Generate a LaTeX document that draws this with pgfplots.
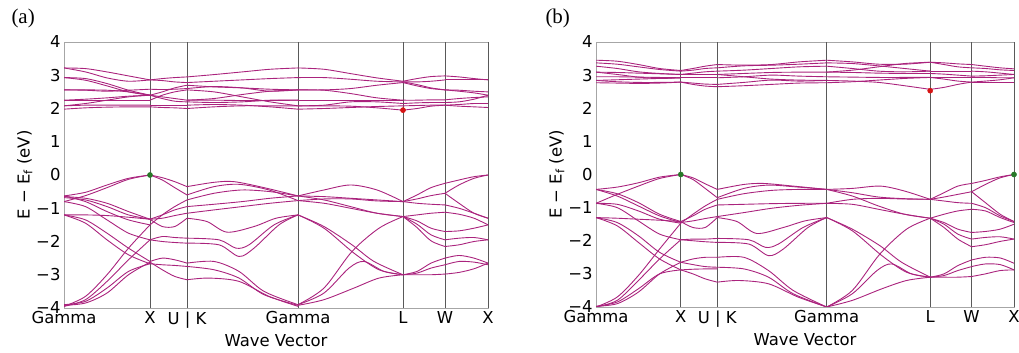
\documentclass[border=0pt]{standalone}
\usepackage{pgfplots}
\pgfplotsset{compat=1.18}
\usepackage{fontspec}
\setmainfont{DejaVu Sans}
\newfontfamily\serifff{Liberation Serif}
\definecolor{bandc}{RGB}{170,35,125}
\definecolor{gdot}{RGB}{40,120,40}
\definecolor{rdot}{RGB}{215,20,20}
\pgfplotsset{
  bandax/.style={
    scale only axis, xmin=0, xmax=4.24, ymin=-4, ymax=4,
    ytick={-4,-3,-2,-1,0,1,2,3,4},
    yticklabels={−4,−3,−2,−1,0,1,2,3,4},
    xtick={0,0.86,1.23,2.34,3.39,3.81,4.24},
    xticklabels={Gamma,X,U | K,Gamma,L,W,X},
    extra x ticks={0.86,1.23,2.34,3.39,3.81,4.24},
    extra x tick labels={},
    extra x tick style={grid=major, major grid style={black!65, line width=0.8pt}},
    major tick length=0pt,
    tick label style={font=\fontsize{16.5}{19}\selectfont},
    label style={font=\fontsize{16.5}{19}\selectfont},
    xlabel={Wave Vector},
    ylabel={E − E\textsubscript{f} (eV)},
    ylabel style={yshift=-3bp},
    axis line style={black!35, line width=0.8pt},
  },
  b/.style={smooth, line width=0.9pt, bandc},
}
\begin{document}
\begin{tikzpicture}
\path[use as bounding box] (0,0) rectangle (1019bp,353bp);
\node[anchor=base west, font=\serifff\fontsize{21}{24}\selectfont] at (8bp,329bp) {(a)};
\node[anchor=base west, font=\serifff\fontsize{21}{24}\selectfont] at (542bp,329bp) {(b)};
% ================= panel (a)
\begin{axis}[bandax, at={(64bp,45bp)}, anchor=south west, width=424bp, height=266bp]
% valence G-X
\addplot[b] coordinates {(0,-0.63)(0.215,-0.52)(0.43,-0.3)(0.645,-0.1)(0.86,0)};
\addplot[b] coordinates {(0,-0.80)(0.215,-0.62)(0.43,-0.38)(0.645,-0.13)(0.86,0)};
\addplot[b] coordinates {(0,-0.65)(0.215,-0.70)(0.43,-0.85)(0.645,-1.1)(0.86,-1.33)};
\addplot[b] coordinates {(0,-0.68)(0.215,-0.75)(0.43,-0.95)(0.645,-1.2)(0.86,-1.33)};
\addplot[b] coordinates {(0,-0.63)(0.215,-0.80)(0.43,-1.1)(0.645,-1.35)(0.86,-1.5)};
\addplot[b] coordinates {(0,-1.2)(0.215,-1.2)(0.43,-1.22)(0.645,-1.27)(0.86,-1.33)};
\addplot[b] coordinates {(0,-0.80)(0.215,-0.95)(0.43,-1.35)(0.645,-1.75)(0.86,-1.95)};
\addplot[b] coordinates {(0,-1.2)(0.215,-1.35)(0.43,-1.75)(0.645,-2.2)(0.86,-2.6)};
\addplot[b] coordinates {(0,-1.2)(0.215,-1.45)(0.43,-1.95)(0.645,-2.4)(0.86,-2.67)};
\addplot[b] coordinates {(0,-3.95)(0.215,-3.75)(0.43,-3.2)(0.645,-2.55)(0.86,-1.95)};
\addplot[b] coordinates {(0,-3.95)(0.215,-3.65)(0.43,-3.0)(0.645,-2.2)(0.86,-1.5)};
\addplot[b] coordinates {(0,-3.90)(0.215,-3.8)(0.43,-3.4)(0.645,-2.9)(0.86,-2.67)};
\addplot[b] coordinates {(0,-3.92)(0.215,-3.85)(0.43,-3.55)(0.645,-3.0)(0.86,-2.62)};
% X-UK
\addplot[b] coordinates {(0.86,0)(0.983,-0.08)(1.107,-0.2)(1.23,-0.35)};
\addplot[b] coordinates {(0.86,0)(0.983,-0.15)(1.107,-0.38)(1.23,-0.6)};
\addplot[b] coordinates {(0.86,-1.33)(0.983,-1.2)(1.107,-1.05)(1.23,-0.95)};
\addplot[b] coordinates {(0.86,-1.33)(0.983,-1.3)(1.107,-1.22)(1.23,-1.15)};
\addplot[b] coordinates {(0.86,-1.5)(0.983,-1.2)(1.107,-0.95)(1.23,-0.75)};
\addplot[b] coordinates {(0.86,-1.33)(0.983,-1.55)(1.107,-1.55)(1.23,-1.3)};
\addplot[b] coordinates {(0.86,-1.95)(0.983,-1.85)(1.107,-1.88)(1.23,-1.9)};
\addplot[b] coordinates {(0.86,-1.95)(0.983,-2.0)(1.107,-2.03)(1.23,-2.05)};
\addplot[b] coordinates {(0.86,-2.6)(0.983,-2.5)(1.107,-2.55)(1.23,-2.65)};
\addplot[b] coordinates {(0.86,-2.67)(0.983,-2.7)(1.107,-2.72)(1.23,-2.75)};
\addplot[b] coordinates {(0.86,-2.62)(0.983,-2.85)(1.107,-3.05)(1.23,-3.15)};
% UK-G
\addplot[b] coordinates {(1.23,-0.35)(1.5,-0.22)(1.7,-0.2)(2.0,-0.38)(2.34,-0.63)};
\addplot[b] coordinates {(1.23,-0.6)(1.5,-0.35)(1.75,-0.28)(2.05,-0.45)(2.34,-0.77)};
\addplot[b] coordinates {(1.23,-0.75)(1.5,-0.55)(1.78,-0.45)(2.06,-0.5)(2.34,-0.63)};
\addplot[b] coordinates {(1.23,-0.95)(1.5,-0.88)(1.78,-0.8)(2.06,-0.7)(2.34,-0.63)};
\addplot[b] coordinates {(1.23,-1.15)(1.5,-1.05)(1.78,-0.95)(2.06,-0.85)(2.34,-0.77)};
\addplot[b] coordinates {(1.23,-1.3)(1.43,-1.4)(1.63,-1.72)(1.9,-1.55)(2.12,-1.3)(2.34,-1.2)};
\addplot[b] coordinates {(1.23,-1.9)(1.55,-1.95)(1.72,-2.2)(1.85,-2.1)(2.1,-1.5)(2.34,-1.2)};
\addplot[b] coordinates {(1.23,-2.05)(1.55,-2.1)(1.75,-2.45)(1.9,-2.2)(2.15,-1.5)(2.34,-1.2)};
\addplot[b] coordinates {(1.23,-2.65)(1.5,-2.6)(1.75,-2.9)(2.0,-3.5)(2.34,-3.9)};
\addplot[b] coordinates {(1.23,-2.75)(1.5,-2.85)(1.75,-3.1)(2.0,-3.6)(2.34,-3.92)};
\addplot[b] coordinates {(1.23,-3.15)(1.45,-3.1)(1.75,-3.2)(2.05,-3.65)(2.34,-3.95)};
% G-L
\addplot[b] coordinates {(2.34,-0.63)(2.6,-0.45)(2.865,-0.3)(3.13,-0.45)(3.39,-0.8)};
\addplot[b] coordinates {(2.34,-0.63)(2.6,-0.65)(2.865,-0.7)(3.13,-0.75)(3.39,-0.8)};
\addplot[b] coordinates {(2.34,-0.77)(2.6,-0.72)(2.865,-0.72)(3.13,-0.78)(3.39,-0.8)};
\addplot[b] coordinates {(2.34,-0.63)(2.6,-0.75)(2.865,-0.95)(3.13,-1.15)(3.39,-1.25)};
\addplot[b] coordinates {(2.34,-0.77)(2.6,-0.85)(2.865,-1.0)(3.13,-1.15)(3.39,-1.25)};
\addplot[b] coordinates {(2.34,-1.2)(2.6,-1.6)(2.9,-2.35)(3.15,-2.85)(3.39,-3.0)};
\addplot[b] coordinates {(2.34,-1.2)(2.6,-1.55)(2.88,-2.1)(3.1,-2.6)(3.39,-3.0)};
\addplot[b] coordinates {(2.34,-3.9)(2.6,-3.4)(2.88,-2.3)(3.15,-1.6)(3.39,-1.25)};
\addplot[b] coordinates {(2.34,-3.9)(2.6,-3.55)(2.85,-2.8)(3.0,-2.6)(3.2,-2.9)(3.39,-3.0)};
\addplot[b] coordinates {(2.34,-3.92)(2.6,-3.75)(2.9,-3.4)(3.15,-3.1)(3.39,-3.0)};
% L-W
\addplot[b] coordinates {(3.39,-0.8)(3.53,-0.6)(3.67,-0.38)(3.81,-0.25)};
\addplot[b] coordinates {(3.39,-0.8)(3.53,-0.72)(3.67,-0.62)(3.81,-0.55)};
\addplot[b] coordinates {(3.39,-0.8)(3.53,-0.85)(3.67,-0.88)(3.81,-0.9)};
\addplot[b] coordinates {(3.39,-1.25)(3.53,-1.2)(3.67,-1.15)(3.81,-1.12)};
\addplot[b] coordinates {(3.39,-1.25)(3.53,-1.38)(3.67,-1.6)(3.81,-1.7)};
\addplot[b] coordinates {(3.39,-1.25)(3.53,-1.48)(3.67,-1.8)(3.81,-1.95)};
\addplot[b] coordinates {(3.39,-1.25)(3.53,-1.58)(3.67,-1.98)(3.81,-2.15)};
\addplot[b] coordinates {(3.39,-3.0)(3.53,-2.9)(3.67,-2.65)(3.81,-2.5)};
\addplot[b] coordinates {(3.39,-3.0)(3.53,-2.95)(3.67,-2.8)(3.81,-2.7)};
\addplot[b] coordinates {(3.39,-3.0)(3.53,-3.0)(3.67,-3.0)(3.81,-2.98)};
% W-X
\addplot[b] coordinates {(3.81,-0.25)(3.95,-0.15)(4.1,-0.05)(4.24,0)};
\addplot[b] coordinates {(3.81,-0.55)(3.95,-0.3)(4.1,-0.1)(4.24,0)};
\addplot[b] coordinates {(3.81,-0.55)(3.95,-0.85)(4.1,-1.15)(4.24,-1.3)};
\addplot[b] coordinates {(3.81,-0.9)(3.95,-1.0)(4.1,-1.15)(4.24,-1.3)};
\addplot[b] coordinates {(3.81,-1.12)(3.95,-1.18)(4.1,-1.3)(4.24,-1.5)};
\addplot[b] coordinates {(3.81,-1.7)(3.95,-1.68)(4.1,-1.6)(4.24,-1.5)};
\addplot[b] coordinates {(3.81,-1.95)(3.95,-1.9)(4.1,-1.88)(4.24,-1.95)};
\addplot[b] coordinates {(3.81,-2.15)(3.95,-2.1)(4.1,-2.0)(4.24,-1.95)};
\addplot[b] coordinates {(3.81,-2.5)(3.95,-2.42)(4.1,-2.5)(4.24,-2.65)};
\addplot[b] coordinates {(3.81,-2.7)(3.95,-2.6)(4.1,-2.62)(4.24,-2.7)};
\addplot[b] coordinates {(3.81,-2.98)(3.95,-2.93)(4.1,-2.82)(4.24,-2.65)};
% conduction G-X
\addplot[b] coordinates {(0,3.22)(0.215,3.2)(0.43,3.1)(0.645,2.98)(0.86,2.86)};
\addplot[b] coordinates {(0,3.22)(0.215,3.1)(0.43,2.92)(0.645,2.82)(0.86,2.86)};
\addplot[b] coordinates {(0,2.93)(0.215,2.9)(0.43,2.75)(0.645,2.55)(0.86,2.4)};
\addplot[b] coordinates {(0,2.93)(0.215,2.85)(0.43,2.68)(0.645,2.5)(0.86,2.4)};
\addplot[b] coordinates {(0,2.56)(0.215,2.56)(0.43,2.55)(0.645,2.5)(0.86,2.4)};
\addplot[b] coordinates {(0,2.56)(0.215,2.55)(0.43,2.52)(0.645,2.55)(0.86,2.58)};
\addplot[b] coordinates {(0,2.25)(0.215,2.28)(0.43,2.32)(0.645,2.37)(0.86,2.4)};
\addplot[b] coordinates {(0,2.08)(0.215,2.15)(0.43,2.25)(0.645,2.35)(0.86,2.4)};
\addplot[b] coordinates {(0,2.25)(0.215,2.25)(0.43,2.25)(0.645,2.25)(0.86,2.25)};
\addplot[b] coordinates {(0,2.08)(0.215,2.1)(0.43,2.1)(0.645,2.1)(0.86,2.1)};
\addplot[b] coordinates {(0,1.98)(0.215,2.02)(0.43,2.04)(0.645,2.05)(0.86,2.05)};
% X-UK
\addplot[b] coordinates {(0.86,2.86)(0.983,2.9)(1.107,2.93)(1.23,2.95)};
\addplot[b] coordinates {(0.86,2.86)(0.983,2.84)(1.107,2.8)(1.23,2.78)};
\addplot[b] coordinates {(0.86,2.4)(0.983,2.5)(1.107,2.62)(1.23,2.7)};
\addplot[b] coordinates {(0.86,2.58)(0.983,2.57)(1.107,2.58)(1.23,2.6)};
\addplot[b] coordinates {(0.86,2.4)(0.983,2.35)(1.107,2.3)(1.23,2.25)};
\addplot[b] coordinates {(0.86,2.4)(0.983,2.3)(1.107,2.22)(1.23,2.2)};
\addplot[b] coordinates {(0.86,2.25)(0.983,2.4)(1.107,2.5)(1.23,2.56)};
\addplot[b] coordinates {(0.86,2.1)(0.983,2.1)(1.107,2.1)(1.23,2.1)};
\addplot[b] coordinates {(0.86,2.05)(0.983,2.03)(1.107,2.02)(1.23,2.0)};
% UK-G
\addplot[b] coordinates {(1.23,2.95)(1.5,3.02)(1.78,3.1)(2.06,3.18)(2.34,3.22)};
\addplot[b] coordinates {(1.23,2.78)(1.5,2.82)(1.78,2.86)(2.06,2.9)(2.34,2.93)};
\addplot[b] coordinates {(1.23,2.7)(1.5,2.65)(1.78,2.62)(2.06,2.58)(2.34,2.56)};
\addplot[b] coordinates {(1.23,2.6)(1.5,2.66)(1.78,2.62)(2.06,2.52)(2.34,2.56)};
\addplot[b] coordinates {(1.23,2.56)(1.5,2.5)(1.78,2.35)(2.06,2.2)(2.34,2.08)};
\addplot[b] coordinates {(1.23,2.25)(1.5,2.3)(1.78,2.42)(2.06,2.52)(2.34,2.56)};
\addplot[b] coordinates {(1.23,2.2)(1.5,2.18)(1.78,2.2)(2.06,2.25)(2.34,2.25)};
\addplot[b] coordinates {(1.23,2.1)(1.5,2.12)(1.78,2.1)(2.06,2.05)(2.34,1.98)};
\addplot[b] coordinates {(1.23,2.0)(1.5,2.05)(1.78,2.08)(2.06,2.08)(2.34,2.08)};
\addplot[b] coordinates {(1.23,2.25)(1.5,2.25)(1.78,2.24)(2.06,2.24)(2.34,2.25)};
% G-L
\addplot[b] coordinates {(2.34,3.22)(2.6,3.18)(2.865,3.05)(3.13,2.92)(3.39,2.82)};
\addplot[b] coordinates {(2.34,2.93)(2.6,2.93)(2.865,2.88)(3.13,2.82)(3.39,2.8)};
\addplot[b] coordinates {(2.34,2.56)(2.6,2.56)(2.865,2.6)(3.13,2.7)(3.39,2.78)};
\addplot[b] coordinates {(2.34,2.56)(2.6,2.55)(2.865,2.45)(3.13,2.32)(3.39,2.25)};
\addplot[b] coordinates {(2.34,2.25)(2.6,2.25)(2.865,2.25)(3.13,2.25)(3.39,2.25)};
\addplot[b] coordinates {(2.34,2.08)(2.6,2.1)(2.865,2.2)(3.13,2.2)(3.39,2.15)};
\addplot[b] coordinates {(2.34,2.08)(2.6,2.08)(2.865,2.07)(3.13,2.02)(3.39,1.95)};
\addplot[b] coordinates {(2.34,1.98)(2.6,2.0)(2.865,2.03)(3.13,2.06)(3.39,2.08)};
% L-W
\addplot[b] coordinates {(3.39,2.82)(3.53,2.9)(3.67,2.96)(3.81,2.98)};
\addplot[b] coordinates {(3.39,2.8)(3.53,2.8)(3.67,2.82)(3.81,2.86)};
\addplot[b] coordinates {(3.39,2.78)(3.53,2.68)(3.67,2.6)(3.81,2.56)};
\addplot[b] coordinates {(3.39,2.8)(3.53,2.72)(3.67,2.62)(3.81,2.56)};
\addplot[b] coordinates {(3.39,2.25)(3.53,2.25)(3.67,2.26)(3.81,2.26)};
\addplot[b] coordinates {(3.39,2.15)(3.53,2.17)(3.67,2.18)(3.81,2.18)};
\addplot[b] coordinates {(3.39,1.95)(3.53,2.0)(3.67,2.07)(3.81,2.1)};
\addplot[b] coordinates {(3.39,2.08)(3.53,2.09)(3.67,2.1)(3.81,2.1)};
% W-X
\addplot[b] coordinates {(3.81,2.98)(3.95,2.95)(4.1,2.9)(4.24,2.86)};
\addplot[b] coordinates {(3.81,2.86)(3.95,2.86)(4.1,2.86)(4.24,2.86)};
\addplot[b] coordinates {(3.81,2.56)(3.95,2.52)(4.1,2.47)(4.24,2.4)};
\addplot[b] coordinates {(3.81,2.56)(3.95,2.55)(4.1,2.52)(4.24,2.5)};
\addplot[b] coordinates {(3.81,2.26)(3.95,2.3)(4.1,2.33)(4.24,2.35)};
\addplot[b] coordinates {(3.81,2.18)(3.95,2.2)(4.1,2.28)(4.24,2.4)};
\addplot[b] coordinates {(3.81,2.1)(3.95,2.12)(4.1,2.15)(4.24,2.15)};
\addplot[b] coordinates {(3.81,2.1)(3.95,2.07)(4.1,2.05)(4.24,2.03)};
% band edges
\addplot[only marks, mark=*, mark size=2.6pt, gdot] coordinates {(0.86,0)};
\addplot[only marks, mark=*, mark size=2.6pt, rdot] coordinates {(3.39,1.95)};
\end{axis}
% ================= panel (b)
\begin{axis}[bandax, at={(596bp,46bp)}, anchor=south west, width=418bp, height=265bp]
% valence G-X
\addplot[b] coordinates {(0,-0.45)(0.215,-0.38)(0.43,-0.25)(0.645,-0.08)(0.86,0)};
\addplot[b] coordinates {(0,-0.87)(0.215,-0.6)(0.43,-0.35)(0.645,-0.12)(0.86,0)};
\addplot[b] coordinates {(0,-0.45)(0.215,-0.58)(0.43,-0.85)(0.645,-1.2)(0.86,-1.42)};
\addplot[b] coordinates {(0,-0.45)(0.215,-0.65)(0.43,-0.95)(0.645,-1.25)(0.86,-1.45)};
\addplot[b] coordinates {(0,-0.87)(0.215,-0.9)(0.43,-1.1)(0.645,-1.35)(0.86,-1.47)};
\addplot[b] coordinates {(0,-1.3)(0.215,-1.32)(0.43,-1.35)(0.645,-1.38)(0.86,-1.42)};
\addplot[b] coordinates {(0,-0.87)(0.215,-1.0)(0.43,-1.4)(0.645,-1.8)(0.86,-1.97)};
\addplot[b] coordinates {(0,-1.3)(0.215,-1.45)(0.43,-1.85)(0.645,-2.35)(0.86,-2.65)};
\addplot[b] coordinates {(0,-1.3)(0.215,-1.55)(0.43,-2.05)(0.645,-2.55)(0.86,-2.88)};
\addplot[b] coordinates {(0,-4.0)(0.215,-3.8)(0.43,-3.2)(0.645,-2.55)(0.86,-1.97)};
\addplot[b] coordinates {(0,-4.0)(0.215,-3.7)(0.43,-3.05)(0.645,-2.25)(0.86,-1.47)};
\addplot[b] coordinates {(0,-3.98)(0.215,-3.85)(0.43,-3.45)(0.645,-3.0)(0.86,-2.88)};
\addplot[b] coordinates {(0,-3.98)(0.215,-3.9)(0.43,-3.55)(0.645,-3.0)(0.86,-2.65)};
% X-UK
\addplot[b] coordinates {(0.86,0)(0.983,-0.1)(1.107,-0.28)(1.23,-0.45)};
\addplot[b] coordinates {(0.86,0)(0.983,-0.15)(1.107,-0.42)(1.23,-0.7)};
\addplot[b] coordinates {(0.86,-1.42)(0.983,-1.25)(1.107,-1.05)(1.23,-0.92)};
\addplot[b] coordinates {(0.86,-1.47)(0.983,-1.2)(1.107,-0.95)(1.23,-0.75)};
\addplot[b] coordinates {(0.86,-1.42)(0.983,-1.6)(1.107,-1.6)(1.23,-1.3)};
\addplot[b] coordinates {(0.86,-1.45)(0.983,-1.4)(1.107,-1.33)(1.23,-1.27)};
\addplot[b] coordinates {(0.86,-1.97)(0.983,-1.95)(1.107,-1.95)(1.23,-1.93)};
\addplot[b] coordinates {(0.86,-1.97)(0.983,-2.0)(1.107,-2.03)(1.23,-2.05)};
\addplot[b] coordinates {(0.86,-2.65)(0.983,-2.55)(1.107,-2.5)(1.23,-2.5)};
\addplot[b] coordinates {(0.86,-2.65)(0.983,-2.72)(1.107,-2.78)(1.23,-2.8)};
\addplot[b] coordinates {(0.86,-2.88)(0.983,-2.86)(1.107,-2.85)(1.23,-2.85)};
\addplot[b] coordinates {(0.86,-2.88)(0.983,-3.0)(1.107,-3.15)(1.23,-3.25)};
% UK-G
\addplot[b] coordinates {(1.23,-0.45)(1.5,-0.3)(1.7,-0.27)(2.0,-0.35)(2.34,-0.45)};
\addplot[b] coordinates {(1.23,-0.7)(1.5,-0.42)(1.75,-0.32)(2.05,-0.38)(2.34,-0.45)};
\addplot[b] coordinates {(1.23,-0.75)(1.5,-0.58)(1.78,-0.48)(2.06,-0.45)(2.34,-0.45)};
\addplot[b] coordinates {(1.23,-0.92)(1.5,-0.9)(1.78,-0.88)(2.06,-0.87)(2.34,-0.87)};
\addplot[b] coordinates {(1.23,-1.27)(1.5,-1.15)(1.78,-1.02)(2.06,-0.93)(2.34,-0.87)};
\addplot[b] coordinates {(1.23,-1.3)(1.43,-1.42)(1.63,-1.78)(1.9,-1.6)(2.12,-1.4)(2.34,-1.3)};
\addplot[b] coordinates {(1.23,-1.93)(1.55,-1.97)(1.72,-2.2)(1.85,-2.1)(2.1,-1.6)(2.34,-1.3)};
\addplot[b] coordinates {(1.23,-2.05)(1.55,-2.1)(1.75,-2.45)(1.9,-2.25)(2.15,-1.6)(2.34,-1.3)};
\addplot[b] coordinates {(1.23,-2.5)(1.5,-2.5)(1.75,-2.9)(2.0,-3.5)(2.34,-4.0)};
\addplot[b] coordinates {(1.23,-2.8)(1.5,-2.85)(1.75,-3.1)(2.0,-3.6)(2.34,-4.0)};
\addplot[b] coordinates {(1.23,-3.25)(1.45,-3.2)(1.75,-3.3)(2.05,-3.7)(2.34,-4.0)};
% G-L
\addplot[b] coordinates {(2.34,-0.45)(2.6,-0.42)(2.885,-0.35)(3.13,-0.5)(3.39,-0.75)};
\addplot[b] coordinates {(2.34,-0.45)(2.6,-0.55)(2.865,-0.68)(3.13,-0.73)(3.39,-0.75)};
\addplot[b] coordinates {(2.34,-0.87)(2.6,-0.75)(2.865,-0.72)(3.13,-0.74)(3.39,-0.75)};
\addplot[b] coordinates {(2.34,-0.45)(2.6,-0.65)(2.865,-0.95)(3.13,-1.2)(3.39,-1.32)};
\addplot[b] coordinates {(2.34,-0.87)(2.6,-0.9)(2.865,-1.05)(3.13,-1.2)(3.39,-1.32)};
\addplot[b] coordinates {(2.34,-1.3)(2.6,-1.7)(2.9,-2.45)(3.15,-2.95)(3.39,-3.1)};
\addplot[b] coordinates {(2.34,-1.3)(2.6,-1.65)(2.88,-2.15)(3.1,-2.65)(3.39,-3.1)};
\addplot[b] coordinates {(2.34,-4.0)(2.6,-3.5)(2.88,-2.4)(3.15,-1.65)(3.39,-1.32)};
\addplot[b] coordinates {(2.34,-4.0)(2.6,-3.6)(2.85,-2.9)(3.0,-2.7)(3.2,-3.0)(3.39,-3.1)};
\addplot[b] coordinates {(2.34,-4.0)(2.6,-3.8)(2.9,-3.45)(3.15,-3.2)(3.39,-3.1)};
% L-W
\addplot[b] coordinates {(3.39,-0.75)(3.53,-0.55)(3.67,-0.35)(3.81,-0.27)};
\addplot[b] coordinates {(3.39,-0.75)(3.53,-0.68)(3.67,-0.6)(3.81,-0.52)};
\addplot[b] coordinates {(3.39,-0.75)(3.53,-0.8)(3.67,-0.85)(3.81,-0.87)};
\addplot[b] coordinates {(3.39,-1.32)(3.53,-1.2)(3.67,-1.1)(3.81,-1.05)};
\addplot[b] coordinates {(3.39,-1.32)(3.53,-1.45)(3.67,-1.65)(3.81,-1.75)};
\addplot[b] coordinates {(3.39,-1.32)(3.53,-1.5)(3.67,-1.8)(3.81,-1.95)};
\addplot[b] coordinates {(3.39,-1.32)(3.53,-1.6)(3.67,-1.95)(3.81,-2.18)};
\addplot[b] coordinates {(3.39,-3.1)(3.53,-3.0)(3.67,-2.75)(3.81,-2.58)};
\addplot[b] coordinates {(3.39,-3.1)(3.53,-3.05)(3.67,-2.9)(3.81,-2.78)};
\addplot[b] coordinates {(3.39,-3.1)(3.53,-3.1)(3.67,-3.1)(3.81,-3.08)};
% W-X
\addplot[b] coordinates {(3.81,-0.27)(3.95,-0.18)(4.1,-0.07)(4.24,0)};
\addplot[b] coordinates {(3.81,-0.52)(3.95,-0.3)(4.1,-0.1)(4.24,0)};
\addplot[b] coordinates {(3.81,-0.52)(3.95,-0.85)(4.1,-1.2)(4.24,-1.42)};
\addplot[b] coordinates {(3.81,-0.87)(3.95,-1.0)(4.1,-1.25)(4.24,-1.42)};
\addplot[b] coordinates {(3.81,-1.05)(3.95,-1.1)(4.1,-1.3)(4.24,-1.45)};
\addplot[b] coordinates {(3.81,-1.75)(3.95,-1.72)(4.1,-1.65)(4.24,-1.5)};
\addplot[b] coordinates {(3.81,-1.95)(3.95,-1.9)(4.1,-1.88)(4.24,-1.95)};
\addplot[b] coordinates {(3.81,-2.18)(3.95,-2.12)(4.1,-2.02)(4.24,-1.95)};
\addplot[b] coordinates {(3.81,-2.58)(3.95,-2.5)(4.1,-2.52)(4.24,-2.68)};
\addplot[b] coordinates {(3.81,-2.78)(3.95,-2.7)(4.1,-2.72)(4.24,-2.88)};
\addplot[b] coordinates {(3.81,-3.08)(3.95,-3.0)(4.1,-2.9)(4.24,-2.88)};
% conduction G-X
\addplot[b] coordinates {(0,3.45)(0.215,3.42)(0.43,3.32)(0.645,3.2)(0.86,3.14)};
\addplot[b] coordinates {(0,3.37)(0.215,3.33)(0.43,3.25)(0.645,3.17)(0.86,3.12)};
\addplot[b] coordinates {(0,3.27)(0.215,3.2)(0.43,3.1)(0.645,3.05)(0.86,3.02)};
\addplot[b] coordinates {(0,3.09)(0.215,3.08)(0.43,3.06)(0.645,3.04)(0.86,3.02)};
\addplot[b] coordinates {(0,2.95)(0.215,2.95)(0.43,2.94)(0.645,2.93)(0.86,2.92)};
\addplot[b] coordinates {(0,2.84)(0.215,2.86)(0.43,2.88)(0.645,2.9)(0.86,2.92)};
\addplot[b] coordinates {(0,2.77)(0.215,2.76)(0.43,2.75)(0.645,2.76)(0.86,2.79)};
\addplot[b] coordinates {(0,2.84)(0.215,2.8)(0.43,2.78)(0.645,2.78)(0.86,2.79)};
\addplot[b] coordinates {(0,3.09)(0.215,3.02)(0.43,2.94)(0.645,2.9)(0.86,2.92)};
% X-UK
\addplot[b] coordinates {(0.86,3.14)(0.983,3.2)(1.107,3.27)(1.23,3.32)};
\addplot[b] coordinates {(0.86,3.12)(0.983,3.15)(1.107,3.2)(1.23,3.22)};
\addplot[b] coordinates {(0.86,3.02)(0.983,3.06)(1.107,3.1)(1.23,3.12)};
\addplot[b] coordinates {(0.86,3.02)(0.983,3.02)(1.107,3.02)(1.23,3.02)};
\addplot[b] coordinates {(0.86,2.92)(0.983,2.92)(1.107,2.92)(1.23,2.92)};
\addplot[b] coordinates {(0.86,2.79)(0.983,2.76)(1.107,2.73)(1.23,2.72)};
\addplot[b] coordinates {(0.86,2.79)(0.983,2.72)(1.107,2.67)(1.23,2.65)};
% UK-G
\addplot[b] coordinates {(1.23,3.32)(1.5,3.3)(1.78,3.32)(2.06,3.4)(2.34,3.45)};
\addplot[b] coordinates {(1.23,3.22)(1.5,3.28)(1.78,3.3)(2.06,3.33)(2.34,3.37)};
\addplot[b] coordinates {(1.23,3.12)(1.5,3.15)(1.78,3.2)(2.06,3.25)(2.34,3.27)};
\addplot[b] coordinates {(1.23,3.02)(1.5,3.05)(1.78,3.08)(2.06,3.09)(2.34,3.09)};
\addplot[b] coordinates {(1.23,2.92)(1.5,2.95)(1.78,3.0)(2.06,2.97)(2.34,2.95)};
\addplot[b] coordinates {(1.23,2.72)(1.5,2.78)(1.78,2.85)(2.06,2.82)(2.34,2.84)};
\addplot[b] coordinates {(1.23,2.65)(1.5,2.68)(1.78,2.72)(2.06,2.76)(2.34,2.77)};
\addplot[b] coordinates {(1.23,3.02)(1.5,2.95)(1.78,2.88)(2.06,2.85)(2.34,2.84)};
% G-L
\addplot[b] coordinates {(2.34,3.45)(2.6,3.4)(2.865,3.33)(3.13,3.33)(3.39,3.39)};
\addplot[b] coordinates {(2.34,3.37)(2.6,3.35)(2.865,3.28)(3.13,3.2)(3.39,3.12)};
\addplot[b] coordinates {(2.34,3.27)(2.6,3.2)(2.865,3.12)(3.13,3.1)(3.39,3.12)};
\addplot[b] coordinates {(2.34,3.09)(2.6,3.08)(2.865,3.06)(3.13,3.05)(3.39,3.05)};
\addplot[b] coordinates {(2.34,2.95)(2.6,2.94)(2.865,2.93)(3.13,2.93)(3.39,2.93)};
\addplot[b] coordinates {(2.34,2.84)(2.6,2.82)(2.865,2.78)(3.13,2.68)(3.39,2.57)};
\addplot[b] coordinates {(2.34,2.77)(2.6,2.8)(2.865,2.85)(3.13,2.9)(3.39,2.93)};
\addplot[b] coordinates {(2.34,3.09)(2.6,3.15)(2.865,3.25)(3.13,3.35)(3.39,3.39)};
% L-W
\addplot[b] coordinates {(3.39,3.39)(3.53,3.37)(3.67,3.34)(3.81,3.32)};
\addplot[b] coordinates {(3.39,3.39)(3.53,3.32)(3.67,3.25)(3.81,3.22)};
\addplot[b] coordinates {(3.39,3.12)(3.53,3.12)(3.67,3.12)(3.81,3.12)};
\addplot[b] coordinates {(3.39,3.05)(3.53,3.03)(3.67,3.0)(3.81,2.97)};
\addplot[b] coordinates {(3.39,2.93)(3.53,2.93)(3.67,2.93)(3.81,2.93)};
\addplot[b] coordinates {(3.39,2.57)(3.53,2.63)(3.67,2.72)(3.81,2.79)};
\addplot[b] coordinates {(3.39,2.93)(3.53,2.88)(3.67,2.82)(3.81,2.79)};
% W-X
\addplot[b] coordinates {(3.81,3.32)(3.95,3.27)(4.1,3.22)(4.24,3.19)};
\addplot[b] coordinates {(3.81,3.22)(3.95,3.2)(4.1,3.16)(4.24,3.14)};
\addplot[b] coordinates {(3.81,3.12)(3.95,3.1)(4.1,3.06)(4.24,3.02)};
\addplot[b] coordinates {(3.81,2.97)(3.95,2.98)(4.1,3.0)(4.24,3.02)};
\addplot[b] coordinates {(3.81,2.93)(3.95,2.93)(4.1,2.92)(4.24,2.92)};
\addplot[b] coordinates {(3.81,2.79)(3.95,2.79)(4.1,2.79)(4.24,2.79)};
\addplot[b] coordinates {(3.81,2.79)(3.95,2.82)(4.1,2.86)(4.24,2.92)};
% band edges
\addplot[only marks, mark=*, mark size=2.6pt, gdot] coordinates {(0.86,0)(4.24,0)};
\addplot[only marks, mark=*, mark size=2.6pt, rdot] coordinates {(3.39,2.53)};
\end{axis}
\end{tikzpicture}
\end{document}
